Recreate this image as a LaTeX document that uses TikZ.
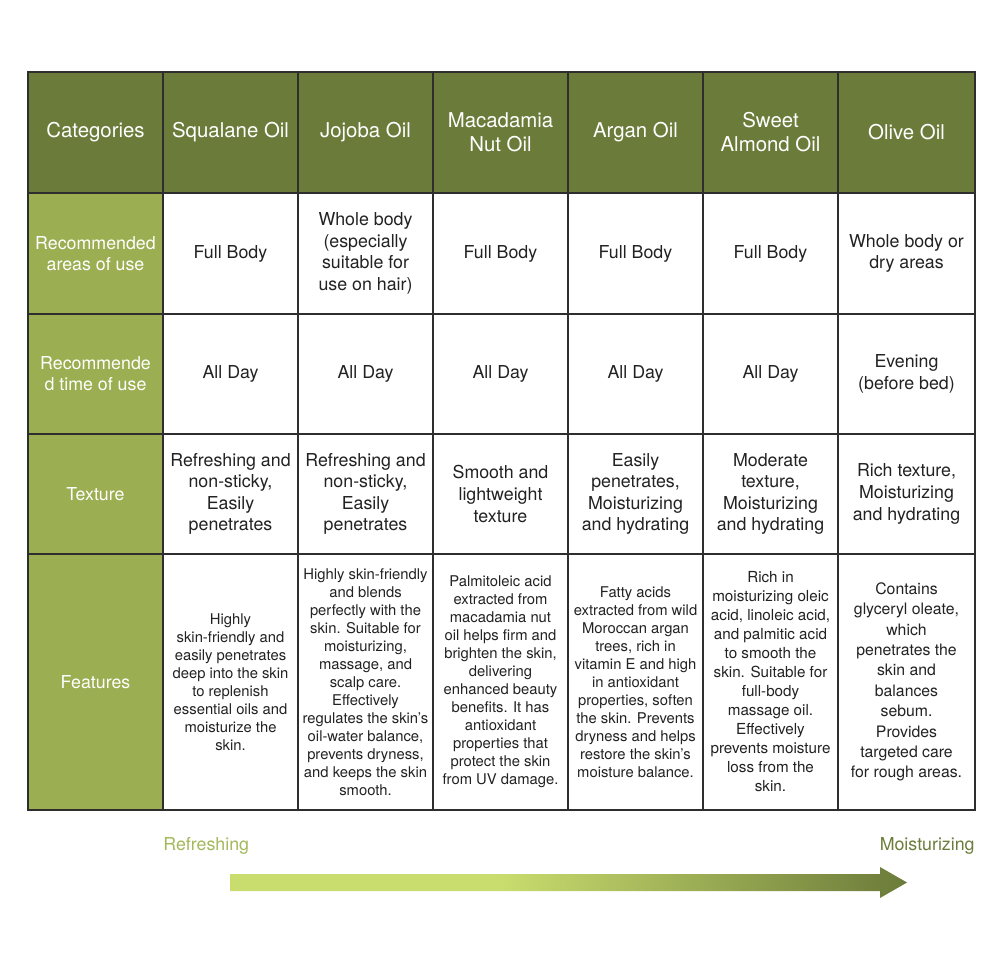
\documentclass[tikz,border=0pt]{standalone}
\usepackage{fontspec}
\setmainfont{TeX Gyre Heros}
\usetikzlibrary{positioning}
\definecolor{olivedark}{HTML}{6B7B3A}
\definecolor{olivelight}{HTML}{9BAE52}
\definecolor{limelight}{HTML}{C9DC6E}
\definecolor{gridline}{HTML}{2E2E2E}
\definecolor{textdark}{HTML}{222222}
\definecolor{refreshtext}{HTML}{A3B85A}
\pgfdeclarehorizontalshading{scaleshade}{100bp}{color(0bp)=(limelight); color(25bp)=(limelight); color(45bp)=(limelight); color(75bp)=(olivedark); color(100bp)=(olivedark)}

\begin{document}
\begin{tikzpicture}[x=0.5pt,y=-0.5pt,
	cellbox/.style={draw=gridline, line width=0.8pt, inner sep=0pt, outer sep=0pt, align=center, minimum width=67.5pt},
	headcell/.style={cellbox, fill=olivedark, text=white, font=\fontsize{10.2}{12}\selectfont, minimum height=60.5pt},
	rowhead/.style={cellbox, fill=olivelight, text=white, font=\fontsize{8.9}{10.5}\selectfont},
	bodycell/.style={cellbox, fill=white, text=textdark, font=\fontsize{8.9}{10.8}\selectfont},
	featcell/.style={cellbox, fill=white, text=textdark, font=\fontsize{7.4}{9}\selectfont, minimum height=128pt},
	lastcol/.style={minimum width=68.5pt}]
	\useasboundingbox (0,0) rectangle (1000,957);

	% header
	\node[headcell] (hd0) at (95.5,132.5) {Categories};
	\node[headcell, right=0pt of hd0] (hd1) {Squalane Oil};
	\node[headcell, right=0pt of hd1] (hd2) {Jojoba Oil};
	\node[headcell, right=0pt of hd2] (hd3) {Macadamia\\Nut Oil};
	\node[headcell, right=0pt of hd3] (hd4) {Argan Oil};
	\node[headcell, right=0pt of hd4] (hd5) {Sweet\\Almond Oil};
	\node[headcell, lastcol, right=0pt of hd5] (hd6) {Olive Oil};

	% areas
	\node[rowhead, minimum height=60.5pt, below=0pt of hd0] (ar0) {Recommended\\areas of use};
	\node[bodycell, minimum height=60.5pt, right=0pt of ar0] (ar1) {Full Body};
	\node[bodycell, minimum height=60.5pt, right=0pt of ar1] (ar2) {Whole body\\(especially\\suitable for\\use on hair)};
	\node[bodycell, minimum height=60.5pt, right=0pt of ar2] (ar3) {Full Body};
	\node[bodycell, minimum height=60.5pt, right=0pt of ar3] (ar4) {Full Body};
	\node[bodycell, minimum height=60.5pt, right=0pt of ar4] (ar5) {Full Body};
	\node[bodycell, lastcol, minimum height=60.5pt, right=0pt of ar5] (ar6) {Whole body or\\dry areas};

	% time
	\node[rowhead, minimum height=60pt, below=0pt of ar0] (tm0) {Recommende\\d time of use};
	\node[bodycell, minimum height=60pt, right=0pt of tm0] (tm1) {All Day};
	\node[bodycell, minimum height=60pt, right=0pt of tm1] (tm2) {All Day};
	\node[bodycell, minimum height=60pt, right=0pt of tm2] (tm3) {All Day};
	\node[bodycell, minimum height=60pt, right=0pt of tm3] (tm4) {All Day};
	\node[bodycell, minimum height=60pt, right=0pt of tm4] (tm5) {All Day};
	\node[bodycell, lastcol, minimum height=60pt, right=0pt of tm5] (tm6) {Evening\\(before bed)};

	% texture
	\node[rowhead, minimum height=60pt, below=0pt of tm0] (tx0) {Texture};
	\node[bodycell, minimum height=60pt, right=0pt of tx0] (tx1) {Refreshing and\\non-sticky,\\Easily\\penetrates};
	\node[bodycell, minimum height=60pt, right=0pt of tx1] (tx2) {Refreshing and\\non-sticky,\\Easily\\penetrates};
	\node[bodycell, minimum height=60pt, right=0pt of tx2] (tx3) {Smooth and\\lightweight\\texture};
	\node[bodycell, minimum height=60pt, right=0pt of tx3] (tx4) {Easily\\penetrates,\\Moisturizing\\and hydrating};
	\node[bodycell, minimum height=60pt, right=0pt of tx4] (tx5) {Moderate\\texture,\\Moisturizing\\and hydrating};
	\node[bodycell, lastcol, minimum height=60pt, right=0pt of tx5] (tx6) {Rich texture,\\Moisturizing\\and hydrating};

	% features
	\node[rowhead, minimum height=128pt, below=0pt of tx0] (ft0) {Features};
	\node[featcell, right=0pt of ft0] (ft1) {Highly\\skin-friendly and\\easily penetrates\\deep into the skin\\to replenish\\essential oils and\\moisturize the\\skin.};
	\node[featcell, right=0pt of ft1] (ft2) {Highly skin-friendly\\and blends\\perfectly with the\\skin. Suitable for\\moisturizing,\\massage, and\\scalp care.\\Effectively\\regulates the skin's\\oil-water balance,\\prevents dryness,\\and keeps the skin\\smooth.};
	\node[featcell, right=0pt of ft2] (ft3) {Palmitoleic acid\\extracted from\\macadamia nut\\oil helps firm and\\brighten the skin,\\delivering\\enhanced beauty\\benefits. It has\\antioxidant\\properties that\\protect the skin\\from UV damage.};
	\node[featcell, right=0pt of ft3] (ft4) {Fatty acids\\extracted from wild\\Moroccan argan\\trees, rich in\\vitamin E and high\\in antioxidant\\properties, soften\\the skin. Prevents\\dryness and helps\\restore the skin's\\moisture balance.};
	\node[featcell, font=\fontsize{7.6}{9.5}\selectfont, right=0pt of ft4] (ft5) {Rich in\\moisturizing oleic\\acid, linoleic acid,\\and palmitic acid\\to smooth the\\skin. Suitable for\\full-body\\massage oil.\\Effectively\\prevents moisture\\loss from the\\skin.};
	\node[featcell, lastcol, font=\fontsize{7.9}{10.2}\selectfont, right=0pt of ft5] (ft6) {Contains\\glyceryl oleate,\\which\\penetrates the\\skin and\\balances\\sebum.\\Provides\\targeted care\\for rough areas.};

	% scale below the table
	\node[anchor=base west, inner sep=0pt, text=refreshtext, font=\fontsize{8.9}{10}\selectfont] (refresh) at (163,850) {Refreshing};
	\node[anchor=base east, inner sep=0pt, text=olivedark, font=\fontsize{8.9}{10}\selectfont] (moist) at (975,850) {Moisturizing};
	\shade[shading=scaleshade] (230,874) -- (880,874) -- (880,867) -- (907,882.5) -- (880,898) -- (880,891) -- (230,891) -- cycle;
\end{tikzpicture}
\end{document}
